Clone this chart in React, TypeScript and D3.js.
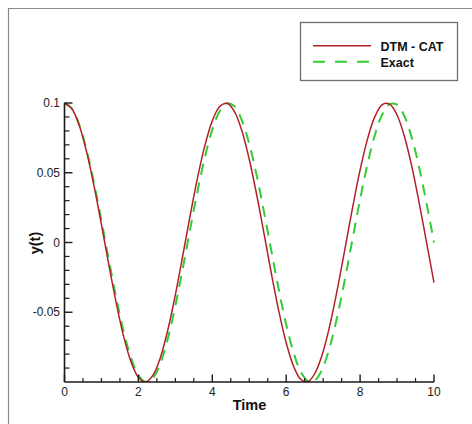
import React from "react";
import * as d3 from "d3";

// Sample times (step 0.2 from 0 to 10)
const times: number[] = [
  0, 0.2, 0.4, 0.6, 0.8, 1.0, 1.2, 1.4, 1.6, 1.8,
  2.0, 2.2, 2.4, 2.6, 2.8, 3.0, 3.2, 3.4, 3.6, 3.8,
  4.0, 4.2, 4.4, 4.6, 4.8, 5.0, 5.2, 5.4, 5.6, 5.8,
  6.0, 6.2, 6.4, 6.6, 6.8, 7.0, 7.2, 7.4, 7.6, 7.8,
  8.0, 8.2, 8.4, 8.6, 8.8, 9.0, 9.2, 9.4, 9.6, 9.8, 10.0,
];

// DTM - CAT series
const dtmCat: number[] = [
  0.1, 0.0959, 0.0838, 0.0648, 0.0405, 0.0128, -0.016, -0.0434, -0.0673, -0.0855,
  -0.0967, -0.0999, -0.0949, -0.082, -0.0623, -0.0375, -0.0095, 0.0192, 0.0463, 0.0696,
  0.0872, 0.0975, 0.0998, 0.0938, 0.0801, 0.0597, 0.0344, 0.0063, -0.0224, -0.0492,
  -0.0719, -0.0887, -0.0982, -0.0995, -0.0926, -0.0781, -0.0571, -0.0314, -0.0031, 0.0255,
  0.052, 0.0741, 0.0902, 0.0988, 0.0992, 0.0914, 0.076, 0.0544, 0.0283, -0.0002, -0.0287,
];

// Exact series
const exact: number[] = [
  0.1, 0.096, 0.0844, 0.0661, 0.0426, 0.0156, -0.0125, -0.0397, -0.0637, -0.0827,
  -0.0951, -0.0999, -0.0969, -0.0861, -0.0685, -0.0454, -0.0187, 0.0094, 0.0368, 0.0613,
  0.0809, 0.0941, 0.0998, 0.0976, 0.0876, 0.0707, 0.0482, 0.0218, -0.0063, -0.0339,
  -0.0588, -0.079, -0.093, -0.0996, -0.0982, -0.0891, -0.0729, -0.0509, -0.0249, 0.0031,
  0.0309, 0.0562, 0.0771, 0.0918, 0.0992, 0.0988, 0.0905, 0.075, 0.0536, 0.0279, 0.0,
];

const xMajorTicks: number[] = [0, 2, 4, 6, 8, 10];
const xTickLabels: string[] = ["0", "2", "4", "6", "8", "10"];
const yMajorTicks: number[] = [0.1, 0.05, 0, -0.05];
const yTickLabels: string[] = ["0.1", "0.05", "0", "-0.05"];
const seriesNames: string[] = ["DTM - CAT", "Exact"];

const W = 472;
const H = 424;
const FONT = "'Liberation Sans', Arial, Helvetica, sans-serif";

export default function App() {
  const x = d3.scaleLinear().domain([0, 10]).range([64.5, 434]);
  const y = d3.scaleLinear().domain([-0.1, 0.1]).range([382, 103]);

  const line = (vals: number[]) =>
    d3
      .line<number>()
      .x((_, i) => x(times[i]))
      .y((d) => y(d))
      .curve(d3.curveCatmullRom.alpha(0.5))(vals) || "";

  const xMinor = d3.range(0, 10.001, 0.5).filter((v) => Math.abs(v % 2) > 1e-6);
  const yMinor = d3
    .range(-0.09, 0.1001, 0.01)
    .filter((v) => Math.abs(Math.round(v * 100) % 5) !== 0);

  const x0 = x(0);
  const yb = y(-0.1);
  const axisColor = "#1a1a1a";
  const red = "#b3202a";
  const green = "#33cc33";

  return (
    <div style={{ position: "fixed", left: 0, top: 0 }}>
      <svg width={W} height={H} style={{ display: "block", background: "#fff" }}>
        <defs>
          <clipPath id="plotClip">
            <rect x={x(0)} y={95} width={x(10) - x(0) + 2} height={yb - 95} />
          </clipPath>
        </defs>
        {/* outer frame */}
        <path d={`M8.5,${H} L8.5,8.5 L${W},8.5`} fill="none" stroke="#8a8a8a" strokeWidth={1.2} />

        {/* curves */}
        <g clipPath="url(#plotClip)">
          <path d={line(exact)} fill="none" stroke={green} strokeWidth={2} strokeDasharray="11,8" />
          <path d={line(dtmCat)} fill="none" stroke={red} strokeWidth={1.5} />
        </g>

        {/* axes */}
        <line x1={x0} x2={x(10)} y1={yb} y2={yb} stroke={axisColor} strokeWidth={1.6} />
        <line x1={x0} x2={x0} y1={y(0.1)} y2={yb} stroke={axisColor} strokeWidth={1.6} />

        {xMajorTicks.map((t) => (
          <line key={"xm" + t} x1={x(t)} x2={x(t)} y1={yb} y2={yb - 7.5} stroke={axisColor} strokeWidth={1.4} />
        ))}
        {xMinor.map((t) => (
          <line key={"xn" + t} x1={x(t)} x2={x(t)} y1={yb} y2={yb - 4} stroke={axisColor} strokeWidth={1.2} />
        ))}
        {yMajorTicks.map((t) => (
          <line key={"ym" + t} x1={x0} x2={x0 + 8} y1={y(t)} y2={y(t)} stroke={axisColor} strokeWidth={1.4} />
        ))}
        {yMinor.map((t) => (
          <line key={"yn" + t} x1={x0} x2={x0 + 5} y1={y(t)} y2={y(t)} stroke={axisColor} strokeWidth={1.2} />
        ))}

        {xMajorTicks.map((t, i) => (
          <text key={"xl" + t} x={x(t)} y={396} textAnchor="middle" fontFamily={FONT} fontSize={12} fill="#222">
            {xTickLabels[i]}
          </text>
        ))}
        {yMajorTicks.map((t, i) => (
          <text key={"yl" + t} x={60} y={y(t)} dy="0.35em" textAnchor="end" fontFamily={FONT} fontSize={12} fill="#222">
            {yTickLabels[i]}
          </text>
        ))}

        {/* axis titles */}
        <text x={249.5} y={410} textAnchor="middle" fontFamily={FONT} fontSize={14.5} fontWeight="bold" fill="#111">
          Time
        </text>
        <text
          transform={`translate(40,243) rotate(-90)`}
          textAnchor="middle"
          fontFamily={FONT}
          fontSize={14.5}
          fontWeight="bold"
          fill="#111"
        >
          y(t)
        </text>

        {/* legend */}
        <rect x={300.5} y={22.5} width={157} height={58} fill="#fff" stroke="#6e6e6e" strokeWidth={1.3} />
        <line x1={313} x2={371} y1={45.7} y2={45.7} stroke={red} strokeWidth={1.5} />
        <line x1={313} x2={371} y1={61.7} y2={61.7} stroke={green} strokeWidth={2} strokeDasharray="12,10" />
        <text x={380.5} y={50.5} fontFamily={FONT} fontSize={12.5} fontWeight="bold" fill="#111">
          {seriesNames[0]}
        </text>
        <text x={380.5} y={66.5} fontFamily={FONT} fontSize={12.5} fontWeight="bold" fill="#111">
          {seriesNames[1]}
        </text>
      </svg>
    </div>
  );
}
